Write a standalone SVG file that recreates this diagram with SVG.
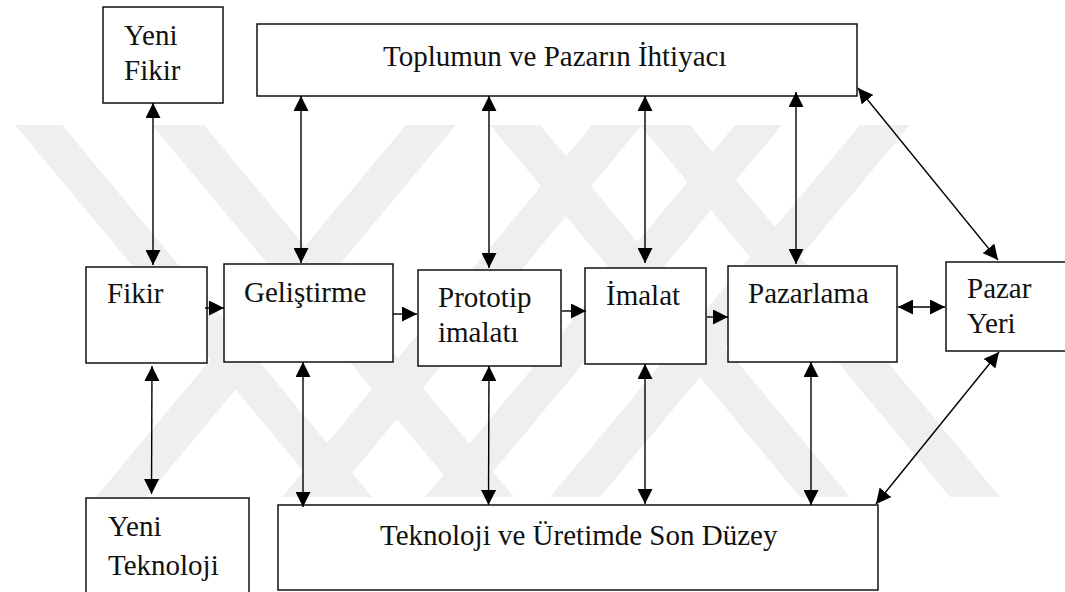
<svg xmlns="http://www.w3.org/2000/svg" width="1065" height="592" viewBox="0 0 1065 592">
  <style>
    .box { fill: #ffffff; stroke: #111111; stroke-width: 1.5; }
    .lbl { font-family: "Liberation Serif", Tinos, "Times New Roman", "DejaVu Serif", serif; font-size: 29px; fill: #111111; }
    .link { stroke: #000000; stroke-width: 1.4; fill: none; }
    .both { marker-start: url(#ah); marker-end: url(#ah); }
    .one { marker-end: url(#ah); }
    .band { fill: #efefef; }
  </style>
  <defs>
    <marker id="ah" viewBox="0 0 15 15" refX="15" refY="7.5" markerWidth="15" markerHeight="15" markerUnits="userSpaceOnUse" orient="auto-start-reverse">
      <path d="M0,0 L15,7.5 L0,15 z" fill="#000000"/>
    </marker>
  </defs>
  <rect width="1065" height="592" fill="#ffffff"/>

  <!-- faint background emblem: slanted bands -->
  <g id="emblem">
    <polygon class="band" points="15,125 62,125 372,497 325,497"/>
    <polygon class="band" points="152,125 204,125 514,497 462,497"/>
    <polygon class="band" points="406,125 456,125 146,497 96,497"/>
    <polygon class="band" points="592,125 642,125 332,497 282,497"/>
    <polygon class="band" points="490,125 540,125 850,497 800,497"/>
    <polygon class="band" points="640,125 690,125 1000,497 950,497"/>
    <polygon class="band" points="735,125 782,125 472,497 425,497"/>
    <polygon class="band" points="860,125 910,125 600,497 550,497"/>
  </g>

  <!-- nodes -->
  <g id="yeni-fikir">
    <rect class="box" x="103" y="7" width="120" height="96"/>
    <text class="lbl" x="124" y="45">Yeni</text>
    <text class="lbl" x="124" y="80">Fikir</text>
  </g>
  <g id="toplum-pazar">
    <rect class="box" x="257" y="24" width="600" height="72"/>
    <text class="lbl" x="383" y="66" font-size="29.4">Toplumun ve Pazarın İhtiyacı</text>
  </g>
  <g id="fikir">
    <rect class="box" x="86" y="267" width="121" height="96"/>
    <text class="lbl" x="107" y="303">Fikir</text>
  </g>
  <g id="gelistirme">
    <rect class="box" x="224" y="264" width="169" height="98"/>
    <text class="lbl" x="244" y="302">Geliştirme</text>
  </g>
  <g id="prototip">
    <rect class="box" x="418" y="270" width="143" height="96"/>
    <text class="lbl" x="438" y="307">Prototip</text>
    <text class="lbl" x="438" y="342">imalatı</text>
  </g>
  <g id="imalat">
    <rect class="box" x="585" y="268" width="121" height="96"/>
    <text class="lbl" x="606" y="305">İmalat</text>
  </g>
  <g id="pazarlama">
    <rect class="box" x="728" y="266" width="169" height="96"/>
    <text class="lbl" x="748" y="303">Pazarlama</text>
  </g>
  <g id="pazar-yeri">
    <rect class="box" x="946" y="262" width="130" height="89"/>
    <text class="lbl" x="967" y="298">Pazar</text>
    <text class="lbl" x="967" y="333">Yeri</text>
  </g>
  <g id="yeni-teknoloji">
    <rect class="box" x="86" y="498" width="163" height="100"/>
    <text class="lbl" x="108" y="536">Yeni</text>
    <text class="lbl" x="108" y="575">Teknoloji</text>
  </g>
  <g id="teknoloji-uretim">
    <rect class="box" x="278" y="505" width="600" height="85"/>
    <text class="lbl" x="380" y="545">Teknoloji ve Üretimde Son Düzey</text>
  </g>

  <!-- connectors -->
  <g id="connectors">
    <line class="link both" x1="153" y1="265" x2="153" y2="103"/>
    <line class="link both" x1="301" y1="263" x2="301" y2="96"/>
    <line class="link both" x1="489" y1="268" x2="489" y2="96"/>
    <line class="link both" x1="645" y1="263" x2="645" y2="96"/>
    <line class="link both" x1="796" y1="264" x2="796" y2="92"/>

    <line class="link both" x1="152" y1="366" x2="151.5" y2="494"/>
    <line class="link both" x1="303" y1="362" x2="303" y2="507"/>
    <line class="link both" x1="489" y1="366" x2="488.5" y2="505"/>
    <line class="link both" x1="645" y1="364" x2="645" y2="504"/>
    <line class="link both" x1="811" y1="362" x2="811" y2="505"/>

    <line class="link both" x1="858" y1="88" x2="998" y2="260"/>
    <line class="link both" x1="999" y1="352" x2="876" y2="504"/>
    <line class="link both" x1="898" y1="307" x2="945" y2="307"/>

    <line class="link one" x1="205" y1="308" x2="224" y2="308"/>
    <line class="link one" x1="393" y1="314" x2="417" y2="314"/>
    <line class="link one" x1="562" y1="311" x2="586" y2="311"/>
    <line class="link one" x1="707" y1="317" x2="728" y2="317"/>
  </g>
</svg>
